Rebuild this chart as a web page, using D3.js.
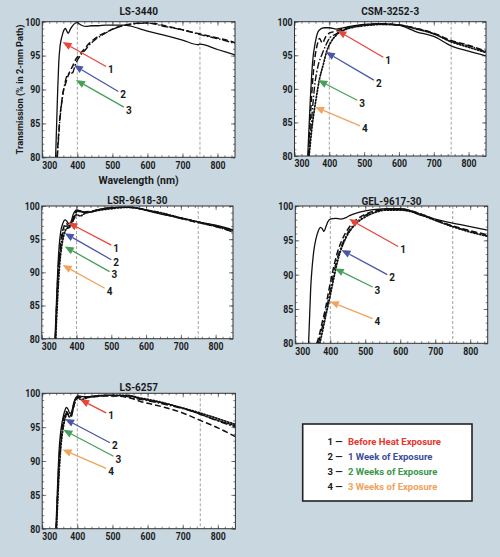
<!DOCTYPE html>
<html><head><meta charset="utf-8">
<script src="https://cdn.jsdelivr.net/npm/d3@7"></script>
<style>
body{margin:0;background:#c9d7e1;}
svg{display:block;}
text{font-family:Roboto,"Liberation Sans",sans-serif;font-weight:700;fill:#1a1a1a;}
</style>
</head><body><svg id="c" width="500" height="557"></svg>
<script>
// ---------- data ----------
const wavelengthTicks = [300, 400, 500, 600, 700, 800];
const transmissionTicks = [80, 85, 90, 95, 100];
const referenceLines = [400, 750];
const seriesNumbers = ["1", "2", "3", "4"];
const seriesLabels = ["Before Heat Exposure", "1 Week of Exposure", "2 Weeks of Exposure", "3 Weeks of Exposure"];
const xAxisTitle = "Wavelength (nm)";
const yAxisTitle = "Transmission (% in 2-mm Path)";

// LS-3440
const ls3440_s1 = [[338,80],[341,85],[344,90],[347,94],[351,96.5],[356,97.8],[362,98.8],[366,99.0],[370,98.6],[374,98.3],[380,98.9],[388,99.5],[395,99.8],[400,99.9],[405,99.7],[415,99.4],[425,99.3],[440,99.4],[460,99.4],[480,99.5],[500,99.5],[530,99.5],[550,99.4],[575,99.0],[600,98.6],[650,98.0],[700,97.3],[745,96.6],[750,96.7],[800,95.9],[850,95.1]];
const ls3440_s2 = [[342,80],[346,83],[350,85.8],[355,88],[360,89.8],[366,90.8],[372,91.8],[380,92.8],[388,93.6],[395,94.4],[405,95.1],[417,95.8],[430,96.6],[445,97.3],[465,98.0],[485,98.5],[505,99.0],[530,99.4],[550,99.6],[575,99.8],[600,99.8],[625,99.7],[650,99.4],[675,99.1],[700,98.8],[725,98.5],[750,98.2],[775,97.9],[800,97.6],[825,97.3],[850,96.9]];
const ls3440_s3 = [[343,80],[348,84],[352,86.5],[358,89],[364,90.8],[370,92.0],[376,92.3],[384,92.4],[388,92.6],[392,93.3],[400,94.3],[410,95.1],[422,95.8],[435,96.6],[450,97.3],[470,98.0],[490,98.6],[510,99.1],[535,99.5],[560,99.7],[600,99.8],[650,99.3],[700,98.8],[750,98.1],[800,97.5],[850,96.8]];

// CSM-3252-3
const csm_s1 = [[338,80],[345,88],[352,94],[360,97],[370,98.7],[385,99.1],[400,99.1],[420,98.9],[450,99.2],[500,99.6],[550,99.7],[580,99.6],[600,99.5],[650,98.5],[700,97.8],[750,96.4],[800,95.6],[850,94.9]];
const csm_s2 = [[340,80],[348,88],[355,93],[365,96.5],[372,97.5],[380,96.8],[390,97.8],[400,98.3],[420,98.6],[450,99.1],[500,99.5],[550,99.7],[590,99.6],[650,99.0],[700,98.3],[750,97.2],[800,96.5],[850,95.6]];
const csm_s3 = [[341,80],[350,86],[358,90.5],[368,93.5],[378,95],[390,96.5],[400,97.5],[420,98.2],[450,99.0],[500,99.5],[550,99.6],[600,99.5],[650,99.0],[700,98.2],[750,97.1],[800,96.4],[850,95.5]];
const csm_s4 = [[342,80],[352,85],[362,88.5],[372,91.5],[382,93.5],[392,95.5],[405,97],[420,98.0],[450,98.9],[500,99.4],[550,99.6],[600,99.5],[650,98.9],[700,98.2],[750,97.0],[800,96.2],[850,95.4]];

// LSR-9618-30
const lsr_s1 = [[338,80],[341,84],[344,88],[347,91.5],[350,94],[354,96],[360,97.3],[367,97.9],[372,97.7],[378,97.3],[384,97.6],[390,98.7],[395,99.2],[400,99.4],[410,99.3],[425,99.0],[440,99.1],[460,99.4],[490,99.7],[520,99.8],[550,99.8],[580,99.6],[610,99.2],[650,98.7],[700,98.2],[750,97.6],[800,97.1],[850,96.4]];
const lsr_s2 = [[339,80],[342,84],[345,88],[348,91],[352,93.5],[357,95.5],[363,96.8],[370,97.4],[378,97.0],[385,97.3],[392,98.5],[400,99.2],[420,99.1],[450,99.3],[500,99.7],[550,99.8],[600,99.4],[650,98.8],[700,98.2],[750,97.5],[800,96.9],[850,96.2]];
const lsr_s3 = [[339,80],[343,85],[347,89],[351,92.2],[356,94.5],[362,96.2],[370,97],[378,96.7],[386,97.2],[394,98.4],[402,99.2],[430,99.0],[460,99.4],[510,99.8],[560,99.8],[600,99.4],[650,98.8],[700,98.1],[750,97.5],[800,96.9],[850,96.1]];
const lsr_s4 = [[340,80],[344,84.5],[348,88.5],[352,91.5],[357,93.8],[363,95.5],[370,96.5],[378,96.8],[385,97.4],[392,98.0],[400,98.7],[410,98.5],[425,98.9],[450,99.2],[500,99.6],[550,99.8],[600,99.4],[650,98.9],[700,98.2],[750,97.6],[800,97.0],[850,96.3]];

// GEL-9617-30
const gel_s1 = [[338,80],[341,84],[344,88],[348,91],[353,93.5],[359,95.2],[366,96.4],[372,96.9],[377,96.7],[382,96.3],[387,96.9],[393,97.7],[400,98.1],[415,98.2],[430,98.1],[445,98.3],[455,98.6],[470,98.9],[500,99.3],[530,99.5],[560,99.6],[600,99.6],[625,99.4],[650,98.8],[700,98.1],[750,97.5],[800,97.0],[850,96.5]];
const gel_s2 = [[362,80],[370,81.5],[378,83.3],[386,85],[395,87.5],[405,90],[412,91.6],[419,93],[426,94.1],[433,95],[445,96.2],[460,97.3],[480,98.2],[500,98.8],[530,99.3],[560,99.5],[600,99.5],[650,99.0],[700,98.0],[750,97.1],[800,96.4],[850,95.8]];
const gel_s3 = [[366,80],[374,81.7],[382,83.5],[391,85.5],[400,87.8],[409,90],[417,91.8],[425,93.2],[433,94.3],[441,95.2],[452,96.3],[468,97.3],[490,98.3],[515,99.0],[545,99.4],[580,99.5],[620,99.4],[660,98.8],[700,98.0],[750,97.0],[800,96.3],[850,95.6]];
const gel_s4 = [[370,80],[378,81.8],[387,84],[395,85.8],[404,88],[413,90.2],[421,92],[429,93.4],[437,94.5],[446,95.5],[458,96.5],[475,97.5],[500,98.4],[530,99.1],[560,99.4],[600,99.4],[650,98.9],[700,97.9],[750,97.0],[800,96.2],[850,95.6]];

// LS-6257
const ls6257_s1 = [[339,80],[342,84],[345,88],[348,91.5],[352,94],[357,95.8],[363,97.2],[369,97.9],[374,97.6],[379,97.0],[384,97.3],[390,98.6],[396,99.4],[402,99.6],[420,99.5],[450,99.6],[480,99.7],[520,99.7],[550,99.6],[580,99.2],[620,98.8],[650,98.5],[700,97.8],[750,96.9],[800,96.0],[850,95.2]];
const ls6257_s2 = [[340,80],[343,84],[346,88],[350,91.5],[354,94],[359,95.8],[365,96.9],[370,97.3],[376,96.7],[382,96.5],[388,97.6],[395,99.0],[402,99.4],[430,99.4],[470,99.6],[510,99.6],[550,99.3],[580,98.8],[620,98.3],[650,97.9],[700,97.1],[750,96.0],[800,94.9],[850,93.6]];
const ls6257_s3 = [[340,80],[344,85],[348,89],[352,92],[357,94.5],[363,96.2],[369,97.1],[376,96.8],[383,96.9],[390,98.2],[397,99.1],[405,99.5],[440,99.5],[480,99.7],[530,99.6],[570,99.2],[620,98.7],[680,98.0],[730,97.3],[780,96.3],[850,95.0]];
const ls6257_s4 = [[341,80],[345,85],[349,89],[353,92],[358,94.3],[364,96],[371,96.9],[378,96.5],[385,97.2],[392,98.8],[400,99.3],[410,99.1],[440,99.5],[490,99.7],[540,99.7],[580,99.3],[630,98.8],[680,98.1],[730,97.4],[780,96.6],[850,95.4]];

// annotation arrows: [tipWavelength, tipT, tailWavelength, tailT]
const ls3440_arrows = [[358,97.0,482,93.4],[390,93.6,517,89.7],[396,91.4,533,87.4]];
const csm_arrows = [[423,98.7,555,94.7],[390,95.5,528,91.3],[368,91.3,480,88.3],[359,87.3,488,84.5]];
const lsr_arrows = [[376,97.5,500,94.1],[366,95.9,500,91.9],[366,93.9,495,90.1],[360,91.1,481,87.6]];
const gel_arrows = [[454,98.1,594,94.1],[432,93.6,563,90.0],[413,90.9,521,88.2],[399,86.1,521,83.6]];
const ls6257_arrows = [[408,99.1,482,97.1],[365,96.2,493,92.7],[360,94.6,503,90.7],[358,91.7,482,88.9]];

// ---------- layout / style ----------
const panels = [
  {title:"LS-3440", series:[ls3440_s1, ls3440_s2, ls3440_s3], arrows:ls3440_arrows, box:[42.3,235,21.7,157.3], titleY:15, axisTitles:true},
  {title:"CSM-3252-3", series:[csm_s1, csm_s2, csm_s3, csm_s4], arrows:csm_arrows, box:[294.5,486,21.7,156], titleY:15},
  {title:"LSR-9618-30", series:[lsr_s1, lsr_s2, lsr_s3, lsr_s4], arrows:lsr_arrows, box:[41.8,233,206,338.7], titleY:204},
  {title:"GEL-9617-30", series:[gel_s1, gel_s2, gel_s3, gel_s4], arrows:gel_arrows, box:[295.3,487.7,206,343.3], titleY:204.5},
  {title:"LS-6257", series:[ls6257_s1, ls6257_s2, ls6257_s3, ls6257_s4], arrows:ls6257_arrows, box:[42.2,235.4,393.3,528.7], titleY:390.5}
];
const lineDash = [null, "6,3", "7,2,1.5,2", "1.3,1.8"];
const lineWidth = [1.3, 1.5, 1.4, 1.7];
const arrowColors = ["#e8453a", "#4756a6", "#46a058", "#f0a45e"];
const legendColors = ["#e8352b", "#3d4c9c", "#3a9748", "#f0a25a"];
const digitWidth = 5.0;

const svg = d3.select("#c");

panels.forEach((p, pi) => {
  const [x0, x1, y0, y1] = p.box;
  const x = d3.scaleLinear().domain([300, 850]).range([x0, x1]);
  const y = d3.scaleLinear().domain([80, 100]).range([y1, y0]);
  const g = svg.append("g");
  const clipId = "clip" + pi;
  g.append("clipPath").attr("id", clipId).append("rect")
    .attr("x", x0).attr("y", y0).attr("width", x1 - x0).attr("height", y1 - y0);
  g.append("rect").attr("x", x0).attr("y", y0).attr("width", x1 - x0).attr("height", y1 - y0)
    .attr("fill", "#fff");

  // reference lines
  g.selectAll(".ref").data(referenceLines).join("line")
    .attr("x1", d => x(d)).attr("x2", d => x(d)).attr("y1", y0).attr("y2", y1)
    .attr("stroke", "#8a8a8a").attr("stroke-width", 0.8).attr("stroke-dasharray", "3,2");

  // axes (ticks inward)
  const minorX = d3.range(300, 851, 20);
  const minorY = d3.range(80, 100.01, 1);
  const mk = (ax, tr) => g.append("g").attr("transform", tr).call(ax).call(s => s.select(".domain").remove());
  mk(d3.axisBottom(x).tickValues(minorX).tickSize(-2).tickFormat(""), `translate(0,${y1})`);
  mk(d3.axisTop(x).tickValues(minorX).tickSize(-2).tickFormat(""), `translate(0,${y0})`);
  mk(d3.axisLeft(y).tickValues(minorY).tickSize(-2).tickFormat(""), `translate(${x0},0)`);
  mk(d3.axisRight(y).tickValues(minorY).tickSize(-2).tickFormat(""), `translate(${x1},0)`);
  mk(d3.axisTop(x).tickValues(wavelengthTicks).tickSize(-4).tickFormat(""), `translate(0,${y0})`);
  mk(d3.axisRight(y).tickValues(transmissionTicks).tickSize(-4).tickFormat(""), `translate(${x1},0)`);
  const xa = mk(d3.axisBottom(x).tickValues(wavelengthTicks).tickSize(-4).tickPadding(4), `translate(0,${y1})`);
  const ya = mk(d3.axisLeft(y).tickValues(transmissionTicks).tickSize(-4).tickPadding(2), `translate(${x0},0)`);
  g.selectAll(".tick line").attr("stroke", "#444").attr("stroke-width", 0.7);
  [xa, ya].forEach(a => a.selectAll("text")
    .attr("font-size", 10.5).attr("font-family", "Roboto").attr("font-weight", 700).attr("fill", "#1a1a1a")
    .attr("textLength", d => String(d).length * digitWidth).attr("lengthAdjust", "spacingAndGlyphs"));
  xa.selectAll("text").attr("dx", d => d === 300 ? 7 : 0);

  // curves
  const line = d3.line().x(d => x(d[0])).y(d => y(d[1])).curve(d3.curveMonotoneX);
  const cg = g.append("g").attr("clip-path", `url(#${clipId})`);
  p.series.forEach((s, si) => {
    cg.append("path").attr("d", line(s)).attr("fill", "none").attr("stroke", "#111")
      .attr("stroke-width", lineWidth[si]).attr("stroke-dasharray", lineDash[si])
      .attr("stroke-linecap", si === 3 ? "round" : "butt");
  });

  // frame
  g.append("rect").attr("x", x0).attr("y", y0).attr("width", x1 - x0).attr("height", y1 - y0)
    .attr("fill", "none").attr("stroke", "#333").attr("stroke-width", 1);

  // arrows
  p.arrows.forEach((a, ai) => {
    const tx = x(a[0]), ty = y(a[1]), sx = x(a[2]), sy = y(a[3]);
    const ang = Math.atan2(ty - sy, tx - sx);
    const hl = 9, hw = 3.8;
    const bx = tx - hl * Math.cos(ang), by = ty - hl * Math.sin(ang);
    g.append("line").attr("x1", sx).attr("y1", sy).attr("x2", bx).attr("y2", by)
      .attr("stroke", arrowColors[ai]).attr("stroke-width", 1.3);
    const px = -Math.sin(ang), py = Math.cos(ang);
    g.append("path").attr("d", `M${tx},${ty}L${bx + px * hw},${by + py * hw}L${bx - px * hw},${by - py * hw}Z`)
      .attr("fill", arrowColors[ai]);
    g.append("text").attr("x", sx + 2).attr("y", sy + 3).attr("dy", "0.35em").attr("font-size", 10).text(seriesNumbers[ai]);
  });

  // title
  g.append("text").attr("x", (x0 + x1) / 2).attr("y", p.titleY).attr("text-anchor", "middle")
    .attr("font-size", 10).text(p.title);

  if (p.axisTitles) {
    g.append("text").attr("x", (x0 + x1) / 2).attr("y", y1 + 27).attr("text-anchor", "middle")
      .attr("font-size", 10.5).text(xAxisTitle);
    g.append("text").attr("transform", `translate(20,${(y0 + y1) / 2}) rotate(-90)`).attr("text-anchor", "middle")
      .attr("dy", "0.35em").attr("font-size", 9.2).text(yAxisTitle);
  }
});

// legend
const lg = svg.append("g");
lg.append("rect").attr("x", 302.7).attr("y", 424).attr("width", 169.3).attr("height", 77)
  .attr("fill", "#fff").attr("stroke", "#222").attr("stroke-width", 1.6);
seriesLabels.forEach((lab, i) => {
  const yy = 444.5 + i * 15;
  lg.append("text").attr("x", 327.5).attr("y", yy).attr("font-size", 9.5).text(seriesNumbers[i] + " \u2014");
  lg.append("text").attr("x", 348).attr("y", yy).attr("font-size", 9.5).style("fill", legendColors[i]).text(lab);
});
</script></body></html>
